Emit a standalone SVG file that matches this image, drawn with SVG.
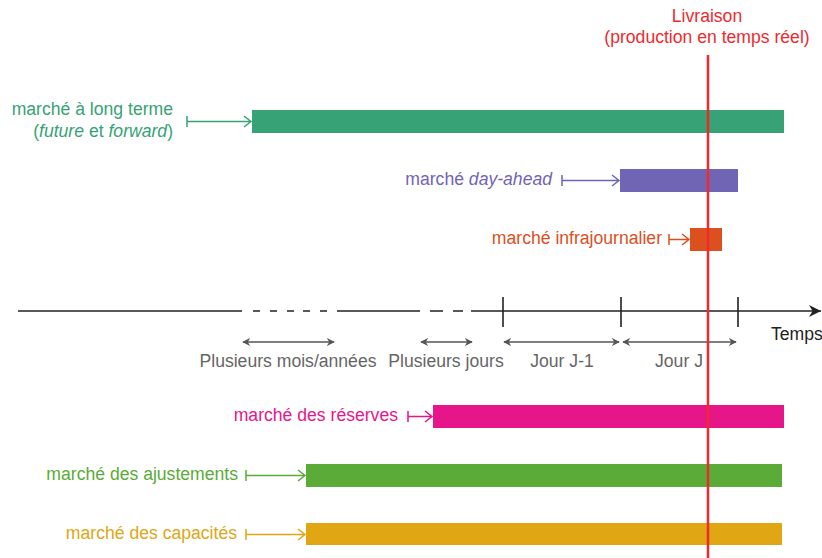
<svg xmlns="http://www.w3.org/2000/svg" width="822" height="558" viewBox="0 0 822 558">
<defs>
<style>
text{font-family:"Liberation Sans",Arial,sans-serif;font-size:17.6px}
.r{text-anchor:end}
.m{text-anchor:middle}
.g{fill:#666}
.ax{stroke:#222;stroke-width:1.6;fill:none}
.tk{stroke:#222;stroke-width:1.6}
.dbl{stroke:#555;stroke-width:1.6;fill:none;marker-start:url(#dh);marker-end:url(#dh)}
</style>
<marker id="dh" viewBox="0 0 10 10" refX="9" refY="5" markerWidth="8" markerHeight="8" orient="auto-start-reverse" markerUnits="userSpaceOnUse"><path d="M0,0 L10,5 L0,10 L3,5 Z" fill="#555"/></marker>
<marker id="ax" viewBox="0 0 10 10" refX="10" refY="5" markerWidth="14" markerHeight="12" orient="auto" markerUnits="userSpaceOnUse"><path d="M0,0 L10,5 L0,10 L3,5 Z" fill="#222"/></marker>
</defs>
<rect width="822" height="558" fill="#fff"/>

<g id="timeline">
<path class="ax" d="M18,311 H242"/>
<path class="ax" d="M253,311 H260 M270,311 H277 M287,311 H294 M303,311 H310 M320,311 H327"/>
<path class="ax" d="M337,311 H420"/>
<path class="ax" d="M430,311 H443 M453,311 H463"/>
<path class="ax" d="M471,311 H821" marker-end="url(#ax)"/>
<path class="tk" d="M503,297 V327 M621,297 V327 M738,297 V327"/>
<text x="771" y="340" fill="#222">Temps</text>
</g>

<g id="periods">
<path class="dbl" d="M243,342 H334"/>
<path class="dbl" d="M421,342 H472"/>
<path class="dbl" d="M504,342 H619"/>
<path class="dbl" d="M623,342 H736"/>
<text class="m g" x="288" y="367">Plusieurs mois/années</text>
<text class="m g" x="446" y="367">Plusieurs jours</text>
<text class="m g" x="562" y="367">Jour J-1</text>
<text class="m g" x="679" y="367">Jour J</text>
</g>

<g id="long-terme">
<rect x="252" y="110" width="532" height="23" fill="#37a275"/>
<path d="M187,116 V127 M187,121.5 H251 M244,116 L251,121.5 L244,127" stroke="#37a275" stroke-width="1.5" fill="none"/>
<text class="r" x="173" y="115" fill="#37a275">marché à long terme</text>
<text class="r" x="173" y="137" fill="#37a275">(<tspan font-style="italic">future</tspan> et <tspan font-style="italic">forward</tspan>)</text>
</g>

<g id="day-ahead">
<rect x="620" y="169" width="118" height="23" fill="#7065b5"/>
<path d="M562,175 V186 M562,180.5 H619 M612,175 L619,180.5 L612,186" stroke="#7065b5" stroke-width="1.5" fill="none"/>
<text class="r" x="552" y="185" fill="#7065b5">marché <tspan font-style="italic">day-ahead</tspan></text>
</g>

<g id="infrajournalier">
<rect x="690" y="228" width="32" height="23" fill="#dc4f1e"/>
<path d="M669,234 V245 M669,239.5 H689 M682,234 L689,239.5 L682,245" stroke="#dc4f1e" stroke-width="1.5" fill="none"/>
<text class="r" x="662" y="244" fill="#dc4f1e">marché infrajournalier</text>
</g>

<g id="reserves">
<rect x="433" y="405" width="351" height="23" fill="#e6158a"/>
<path d="M408,411 V422 M408,416.5 H432 M425,411 L432,416.5 L425,422" stroke="#e6158a" stroke-width="1.5" fill="none"/>
<text class="r" x="398" y="421" fill="#e6158a">marché des réserves</text>
</g>

<g id="ajustements">
<rect x="306" y="464" width="476" height="23" fill="#5aab38"/>
<path d="M246,470 V481 M246,475.5 H305 M298,470 L305,475.5 L298,481" stroke="#5aab38" stroke-width="1.5" fill="none"/>
<text class="r" x="238" y="480" fill="#5aab38">marché des ajustements</text>
</g>

<g id="capacites">
<rect x="306" y="523" width="476" height="22" fill="#e0a614"/>
<path d="M246,529 V540 M246,534.5 H305 M298,529 L305,534.5 L298,540" stroke="#e0a614" stroke-width="1.5" fill="none"/>
<text class="r" x="237" y="539" fill="#e0a614">marché des capacités</text>
</g>

<g id="livraison">
<line x1="708" y1="55" x2="708" y2="558" stroke="#ee2a2e" stroke-width="2.5"/>
<text class="m" x="707" y="22" fill="#ee2a2e">Livraison</text>
<text class="m" x="707" y="43" fill="#ee2a2e">(production en temps réel)</text>
</g>
</svg>
